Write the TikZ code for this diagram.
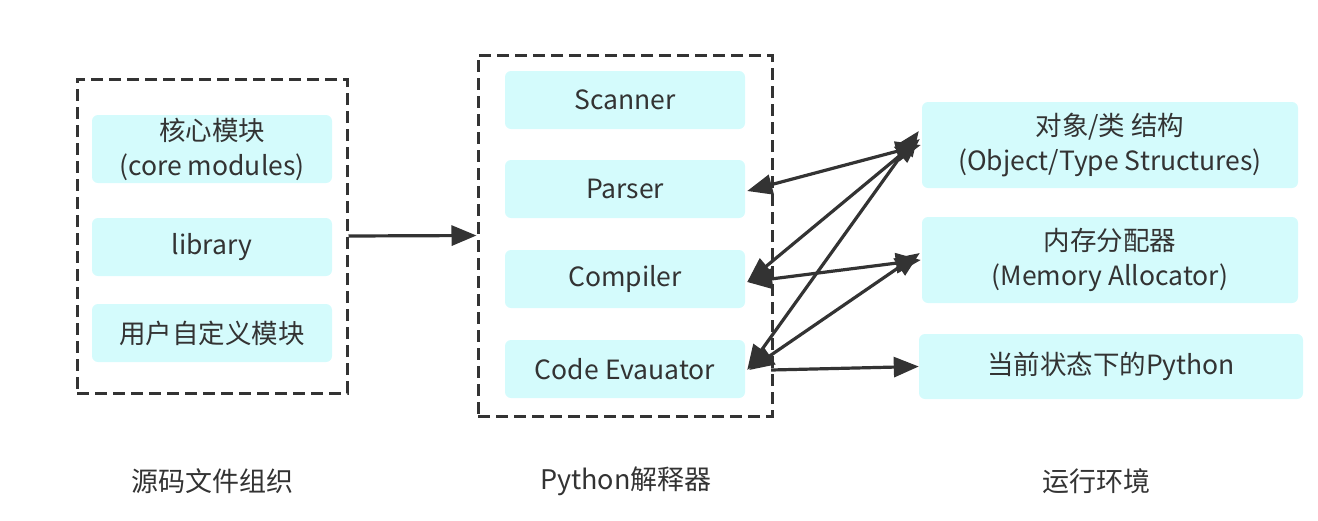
\documentclass[tikz,border=0pt]{standalone}
\usepackage{fontspec}
\setmainfont{Noto Sans CJK SC}
\usetikzlibrary{arrows.meta}
\definecolor{boxfill}{RGB}{212,251,252}
\definecolor{ink}{RGB}{51,51,51}
\begin{document}
\begin{tikzpicture}[x=1pt,y=-1pt,
  every node/.style={font=\fontsize{26.5}{35}\selectfont, text=ink},
  inbox/.style={rectangle, rounded corners=6pt, fill=boxfill, draw=none, minimum width=240pt, minimum height=58pt, align=center, inner sep=0pt},
  frame/.style={rectangle, draw=ink, line width=3pt, dash pattern=on 12pt off 6pt, inner sep=0pt},
  conn/.style={draw=ink, line width=3.2pt, -{Triangle[length=25pt,width=20pt]}},
  dconn/.style={draw=ink, line width=3.2pt, {Triangle[length=25pt,width=20pt]}-{Triangle[length=25pt,width=20pt]}},
  caption/.style={font=\fontsize{27}{32}\selectfont}
]
\useasboundingbox (0,0) rectangle (1318,520);
% left group
\node[frame, minimum width=270pt, minimum height=314pt] (lf) at (212,236) {};
\node[inbox, minimum height=68pt] (core) at (212,149) {核心模块\\(core modules)};
\node[inbox] (lib) at (212,247) {library};
\node[inbox] (user) at (212,333) {用户自定义模块};
% middle group
\node[frame, minimum width=294pt, minimum height=361pt] (mf) at (625,235.5) {};
\node[inbox] (scan) at (625,100) {Scanner};
\node[inbox] (pars) at (625,189) {Parser};
\node[inbox] (comp) at (625,279) {Compiler};
\node[inbox] (eval) at (625,369) {Code Evauator};
% right group
\node[inbox, minimum width=376pt, minimum height=86pt] (obj) at (1110,145) {对象/类 结构\\(Object/Type Structures)};
\node[inbox, minimum width=376pt, minimum height=86pt] (mem) at (1110,260) {内存分配器\\(Memory Allocator)};
\node[inbox, minimum width=384pt, minimum height=65pt] (state) at (1111,366.5) {当前状态下的Python};
% captions
\node[caption] (c1) at (212,481) {源码文件组织};
\node[caption] (c2) at (626,481) {Python解释器};
\node[caption] (c3) at (1096,481) {运行环境};
% connectors
\draw[conn] (lf.east) -- (mf.west);
\draw[dconn] ([xshift=2pt,yshift=-2pt]pars.east) -- ([xshift=-1pt]obj.west);
\draw[dconn] ([xshift=2pt,yshift=-3pt]comp.east) -- ([xshift=-2pt,yshift=6pt]obj.west);
\draw[dconn] ([xshift=2pt,yshift=-1pt]eval.east) -- ([xshift=-3pt,yshift=14pt]obj.west);
\draw[dconn] ([xshift=2pt,yshift=-3pt]comp.east) -- ([xshift=-1pt]mem.west);
\draw[dconn] ([xshift=4pt,yshift=-1pt]eval.east) -- ([xshift=-2pt,yshift=7pt]mem.west);
\draw[conn] ([xshift=26pt,yshift=-1pt]eval.east) -- (state.west);
\end{tikzpicture}
\end{document}
